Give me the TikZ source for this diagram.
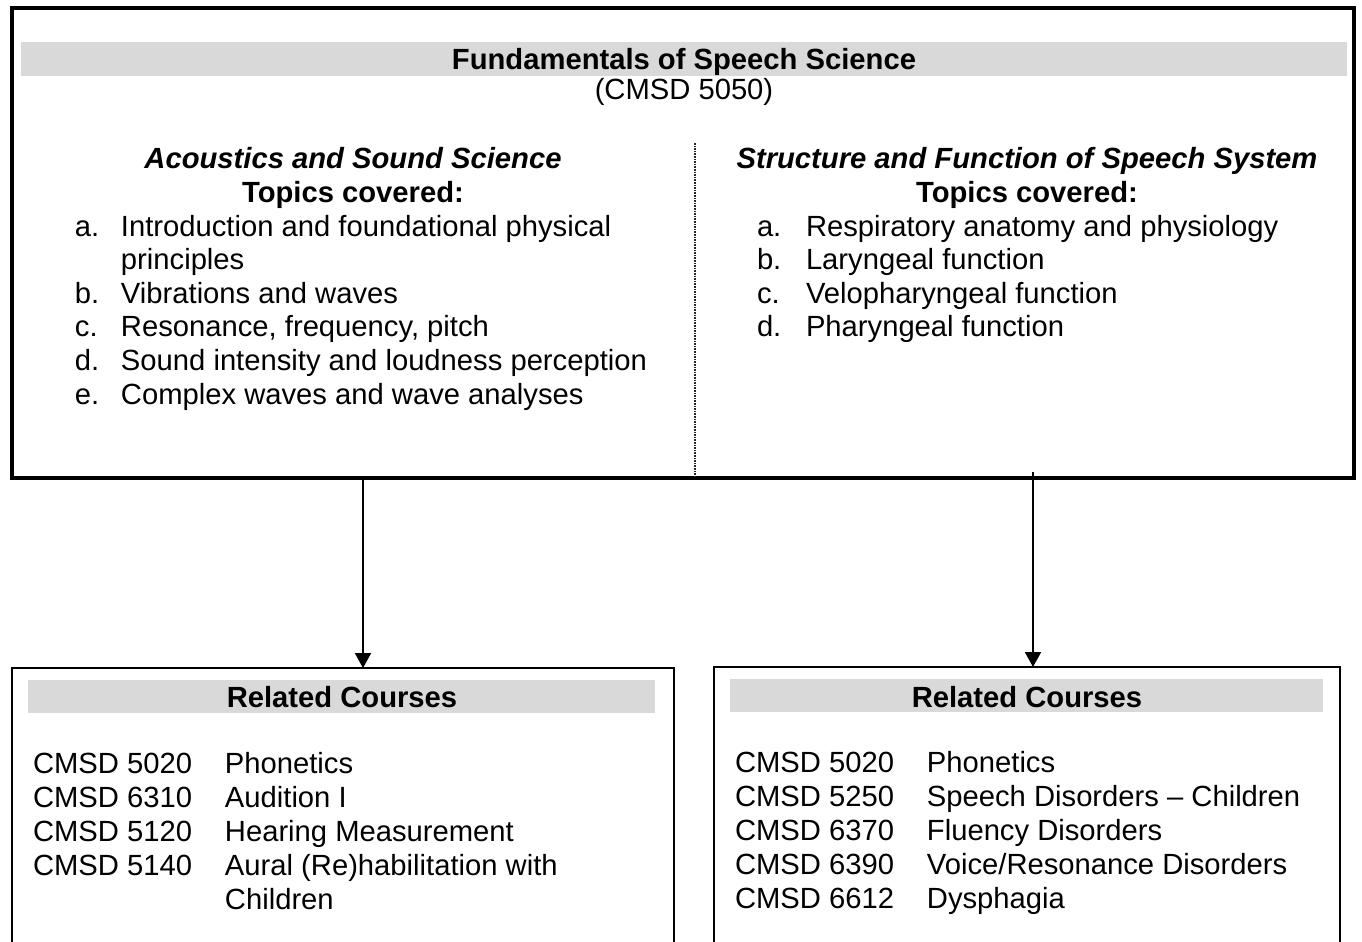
\documentclass[tikz,border=0pt]{standalone}
\usepackage{fontspec}
\setmainfont{Liberation Sans}
\usepackage{xcolor}
\usetikzlibrary{arrows.meta}
\definecolor{bargray}{RGB}{217,217,217}

\begin{document}
\begin{tikzpicture}[x=0.5pt, y=-0.5pt,
	every node/.style={inner sep=0pt, outer sep=0pt, font=\fontsize{14.6}{16.8}\selectfont},
	mainbox/.style={draw, line width=2pt, anchor=north west},
	coursebox/.style={draw, line width=1pt, anchor=north west},
	link/.style={line width=1pt, -{Triangle[length=7.5pt, width=8pt]}},
	divider/.style={line width=0.6pt, dash pattern=on 0.8pt off 0.5pt, black!85}]
	\useasboundingbox (0,0) rectangle (1362,942);
	\clip (0,0) rectangle (1362,942);

	% main course box
	\node (fund) [mainbox, minimum width=671.25pt, minimum height=235pt] at (11.5,8) {};
	\fill [bargray] (21,42) rectangle (1347,76);
	\node (title) [anchor=base] at (684,69) {\textbf{Fundamentals of Speech Science}};
	\node (number) [anchor=base] at (684,99) {(CMSD 5050)};
	\coordinate (dtop) at (695,143);
	\draw [divider] (dtop) -- (dtop |- fund.south);

	% left half
	\node (acoustics) [anchor=base] at (353,168) {\textbf{\textit{Acoustics and Sound Science}}};
	\node (ltopics) [anchor=base] at (353,202) {\textbf{Topics covered:}};
	\node (llist) [anchor=base west] at (75,236) {\begin{tabular}[t]{@{}p{23pt}@{}l@{}}
		a. & Introduction and foundational physical\\
		   & principles\\
		b. & Vibrations and waves\\
		c. & Resonance, frequency, pitch\\
		d. & Sound intensity and loudness perception\\
		e. & Complex waves and wave analyses
	\end{tabular}};

	% right half
	\node (structure) [anchor=base] at (1027,168) {\textbf{\textit{Structure and Function of Speech System}}};
	\node (rtopics) [anchor=base] at (1027,202) {\textbf{Topics covered:}};
	\node (rlist) [anchor=base west] at (757,236) {\begin{tabular}[t]{@{}p{24.5pt}@{}l@{}}
		a. & Respiratory anatomy and physiology\\
		b. & Laryngeal function\\
		c. & Velopharyngeal function\\
		d. & Pharyngeal function
	\end{tabular}};

	% related courses
	\node (lcrs) [coursebox, minimum width=331pt, minimum height=170pt] at (12,668) {};
	\fill [bargray] (28,680) rectangle (655,713);
	\node (lhead) [anchor=base] at (342,707) {\textbf{Related Courses}};
	\node (lcourses) [anchor=base west, font=\fontsize{14.6}{17.1}\selectfont] at (33,773) {\begin{tabular}[t]{@{}p{96pt}@{}l@{}}
		CMSD 5020 & Phonetics\\
		CMSD 6310 & Audition I\\
		CMSD 5120 & Hearing Measurement\\
		CMSD 5140 & Aural (Re)habilitation with\\
		          & Children
	\end{tabular}};

	\node (rcrs) [coursebox, minimum width=313pt, minimum height=170pt] at (714,667) {};
	\fill [bargray] (730,679) rectangle (1323,712);
	\node (rhead) [anchor=base] at (1027,707) {\textbf{Related Courses}};
	\node (rcourses) [anchor=base west, font=\fontsize{14.6}{17.1}\selectfont] at (735,772) {\begin{tabular}[t]{@{}p{96pt}@{}l@{}}
		CMSD 5020 & Phonetics\\
		CMSD 5250 & Speech Disorders -- Children\\
		CMSD 6370 & Fluency Disorders\\
		CMSD 6390 & Voice/Resonance Disorders\\
		CMSD 6612 & Dysphagia
	\end{tabular}};

	% arrows
	\coordinate (la) at (363,0);
	\coordinate (ra) at (1033,472);
	\draw [link] (fund.south -| la) -- (lcrs.north -| la);
	\draw [link] (ra) -- (rcrs.north -| ra);
\end{tikzpicture}
\end{document}
